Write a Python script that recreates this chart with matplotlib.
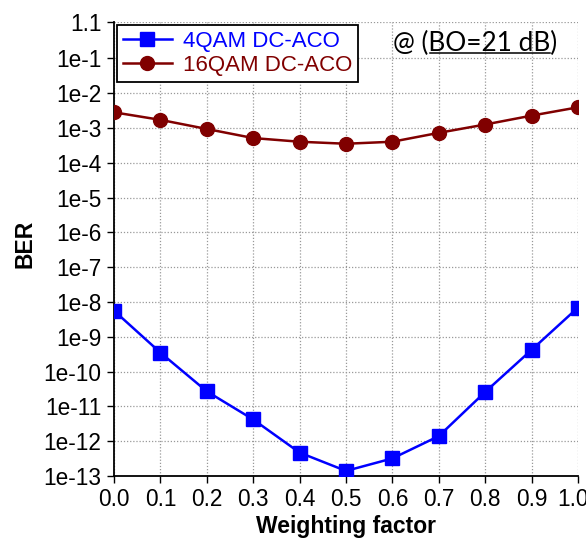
import matplotlib
matplotlib.use('Agg')
import matplotlib.pyplot as plt
import matplotlib.transforms as mtransforms
import numpy as np
from matplotlib.lines import Line2D

# data
weighting = [0.0, 0.1, 0.2, 0.3, 0.4, 0.5, 0.6, 0.7, 0.8, 0.9, 1.0]
ber_4qam = [5.6e-9, 3.5e-10, 2.7e-11, 4.2e-12, 4.7e-13, 1.4e-13,
            3.2e-13, 1.4e-12, 2.6e-11, 4.2e-10, 6.9e-9]
ber_16qam = [2.8e-3, 1.7e-3, 9.3e-4, 5.1e-4, 4.0e-4, 3.5e-4,
             4.0e-4, 7.2e-4, 1.25e-3, 2.25e-3, 3.9e-3]
ytick_vals = [1.1] + [10.0 ** -k for k in range(1, 14)]
ytick_labels = ['1.1'] + ['1e-%d' % k for k in range(1, 14)]
xtick_vals = [round(0.1 * k, 1) for k in range(11)]

plt.rcParams['font.family'] = ['Liberation Sans', 'DejaVu Sans']

W, H = 586, 538
fig = plt.figure(figsize=(W / 100, H / 100), dpi=100)
ax = fig.add_axes([114 / W, 1 - 476 / H, (578 - 114) / W, (476 - 22) / H])

ax.plot(weighting, ber_4qam, color='#0000ff', lw=1.8, marker='s', ms=9.5,
        label='4QAM DC-ACO', zorder=3)
ax.plot(weighting, ber_16qam, color='#800000', lw=1.8, marker='o', ms=10,
        label='16QAM DC-ACO', zorder=3)

ax.set_yscale('log')
ax.set_ylim(1e-13, 1.1)
ax.set_xlim(0, 1.0)
ax.set_yticks(ytick_vals)
ax.set_yticklabels(ytick_labels)
ax.yaxis.set_minor_locator(matplotlib.ticker.NullLocator())
ax.set_xticks(xtick_vals)
ax.set_xticklabels(['%.1f' % v for v in xtick_vals])
ax.tick_params(labelsize=16.3, length=5, width=1, pad=4)

# last x label sits squeezed against the right edge, as in the reference
last = ax.get_xticklabels()[-1]
last.set_transform(last.get_transform() +
                   mtransforms.ScaledTranslation(-5 / 100, 0, fig.dpi_scale_trans))

ax.grid(True, color='#999999', linestyle=(0, (1, 1.5)), lw=0.9)
ax.set_axisbelow(True)
for s in ['top', 'right']:
    ax.spines[s].set_visible(False)
for s in ['left', 'bottom']:
    ax.spines[s].set_linewidth(1.3)

ax.set_xlabel('Weighting factor', fontsize=16.5, fontweight='bold')
ax.set_ylabel('BER', fontsize=16.5, fontweight='bold')
# place axis labels where the reference has them
ax.xaxis.set_label_coords(0.5, (476 - 515) / 454)
ax.yaxis.label.set_va('center')
ax.yaxis.set_label_coords((25 - 114) / 464, (476 - 244) / 454)

leg = ax.legend(loc='upper left', bbox_to_anchor=(0.0, 1.0), borderaxespad=0.15,
                fontsize=16, frameon=True, fancybox=False, handlelength=2.2,
                handletextpad=0.5, borderpad=0.25, labelspacing=0.15)
leg.get_frame().set_edgecolor('black')
leg.get_frame().set_linewidth(1.3)
leg.get_frame().set_alpha(1)
for txt, col in zip(leg.get_texts(), ['#0000ff', '#800000']):
    txt.set_color(col)

# annotation with underlined part
ann_font = dict(fontsize=18.8, family=['Lato', 'DejaVu Sans'])
tx, ty = 393 / W, 1 - 43 / H
t_full = fig.text(tx, ty, '@ (BO=21 dB)', va='center', ha='left', **ann_font)
fig.canvas.draw()
r = fig.canvas.get_renderer()
t_pre = fig.text(tx, ty, '@ (', va='center', ha='left', **ann_font)
t_mid = fig.text(tx, ty, '@ (BO=21 dB', va='center', ha='left', **ann_font)
bb_full = t_full.get_window_extent(r)
x0 = t_pre.get_window_extent(r).x1
x1 = t_mid.get_window_extent(r).x1
t_pre.remove()
t_mid.remove()
uy = bb_full.y0 + 3
fig.add_artist(Line2D([x0 / W + 0.002, x1 / W], [uy / H, uy / H], color='black', lw=1.1,
                      transform=fig.transFigure))

fig.savefig('out.png', dpi=100)
